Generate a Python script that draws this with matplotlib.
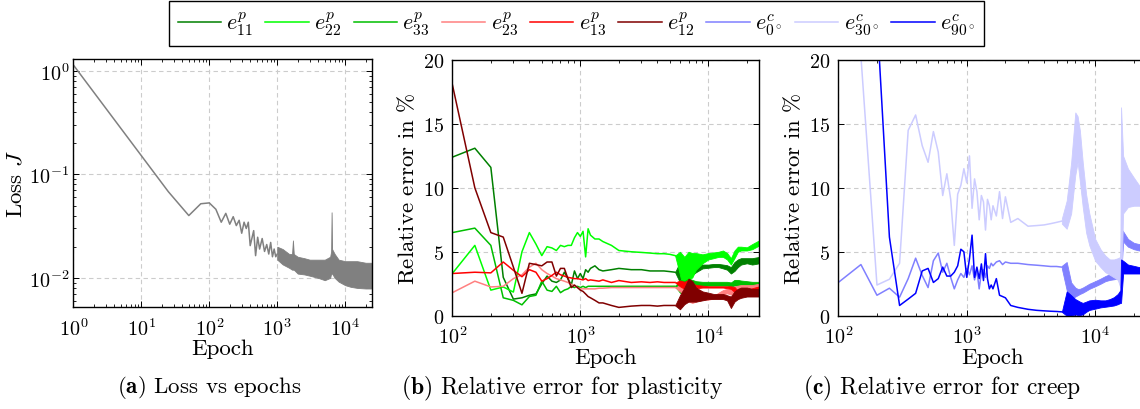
import numpy as np
import matplotlib
matplotlib.use('Agg')
import matplotlib.pyplot as plt
from matplotlib.ticker import LogLocator, FixedLocator, NullFormatter

plt.rcParams['font.family'] = 'cmr10'
plt.rcParams['mathtext.fontset'] = 'cm'
plt.rcParams['axes.formatter.use_mathtext'] = True

# ---- (a) loss ----
ep_loss = [1, 25, 50, 75, 100, 125, 150, 175, 200, 225, 250, 275, 300, 325, 350, 375,
           400, 450, 480, 515, 550, 600, 650, 700, 750, 800, 850, 900, 950, 1000]
loss = [1.14, 0.068, 0.040, 0.052, 0.053, 0.046, 0.0345, 0.042, 0.033, 0.039, 0.032, 0.036,
        0.027, 0.0345, 0.030, 0.0345, 0.0205, 0.0286, 0.0164, 0.0247, 0.019, 0.024, 0.018,
        0.021, 0.017, 0.022, 0.016, 0.019, 0.016, 0.017]
ep_loss_band = [1000, 1200, 1500, 1650, 1700, 1750, 2000, 2500, 3000, 4000, 5000, 6000, 6200,
                6300, 6400, 7000, 8000, 10000, 12000, 15000, 20000, 25000]
loss_lo = [0.015, 0.0135, 0.0125, 0.012, 0.012, 0.012, 0.011, 0.0108, 0.0105, 0.0100, 0.0095,
           0.0100, 0.0110, 0.0110, 0.0110, 0.0100, 0.0092, 0.0085, 0.0082, 0.0080, 0.0079, 0.0079]
loss_hi = [0.020, 0.019, 0.017, 0.017, 0.023, 0.017, 0.016, 0.0155, 0.0150, 0.015, 0.0150,
           0.016, 0.018, 0.043, 0.019, 0.017, 0.0150, 0.0145, 0.0145, 0.0145, 0.014, 0.014]

# ---- (b) plasticity ----
ep_b = [100, 150, 200, 250, 300, 350, 400, 450, 500, 550, 600, 650, 700, 750, 800, 850, 900,
        950, 1000, 1050, 1100, 1150, 1200, 1300, 1400, 1500, 1750, 2000, 2500, 3000, 3500,
        4000, 4500, 5000, 5500]
e11 = [12.4, 13.1, 11.6, 3.0, 1.3, 1.4, 1.6, 1.7, 2.5, 3.1, 2.7, 2.6, 2.8, 3.4, 2.9, 2.4, 3.5,
       2.9, 3.3, 2.9, 3.6, 3.4, 3.7, 3.9, 3.6, 3.5, 3.6, 3.7, 3.6, 3.6, 3.5, 3.5, 3.5, 3.45, 3.4]
e22 = [3.3, 5.5, 2.0, 2.25, 1.85, 5.0, 6.5, 5.6, 4.7, 5.4, 5.3, 5.1, 5.5, 5.4, 5.5, 5.5, 6.1,
       6.5, 6.2, 6.6, 4.6, 6.8, 6.3, 6.0, 6.0, 5.8, 5.5, 5.1, 5.0, 4.95, 4.9, 4.85, 4.85, 4.8, 4.7]
e33 = [6.5, 6.85, 5.5, 1.4, 1.2, 0.85, 1.5, 1.6, 2.7, 2.0, 1.9, 2.3, 1.8, 2.0, 2.1, 2.3, 2.2,
       2.3, 2.2, 2.3, 2.2, 2.3, 2.3, 2.3, 2.3, 2.3, 2.3, 2.3, 2.3, 2.3, 2.3, 2.3, 2.3, 2.3, 2.3]
e23 = [1.8, 2.7, 2.25, 2.3, 2.9, 3.2, 3.8, 4.1, 3.6, 3.3, 3.1, 2.9, 2.8, 2.7, 2.6, 2.45, 2.35,
       2.2, 2.1, 2.1, 2.1, 2.1, 2.1, 2.1, 2.15, 2.15, 2.2, 2.2, 2.2, 2.2, 2.2, 2.2, 2.2, 2.2, 2.2]
e13 = [3.3, 3.4, 3.35, 4.2, 3.55, 3.05, 3.6, 3.4, 2.7, 2.9, 3.15, 3.4, 3.2, 3.1, 3.0, 2.95, 2.9,
       2.9, 2.85, 2.8, 2.9, 2.75, 2.8, 2.75, 2.7, 2.8, 2.6, 2.75, 2.6, 2.65, 2.6, 2.65, 2.6, 2.6, 2.6]
e12 = [18.1, 10.0, 6.5, 6.15, 3.8, 1.75, 4.1, 4.0, 3.9, 4.2, 4.2, 3.1, 3.7, 3.7, 2.9, 2.2, 2.4,
       2.2, 2.0, 1.9, 1.7, 1.5, 1.4, 1.2, 1.0, 1.0, 0.8, 0.65, 0.75, 0.8, 0.8, 0.75, 0.8, 0.8, 0.8]

ep_b_band = [5500, 6000, 6500, 7000, 7500, 8000, 9000, 10000, 11000, 12000, 13000, 14000,
             15000, 16000, 17000, 18000, 20000, 22000, 25000]
e11_lo = [3.4, 2.6, 2.4, 3.0, 3.2, 3.4, 3.7, 3.75, 3.8, 3.8, 3.7, 3.6, 3.3, 3.5, 3.8, 4.0, 4.1, 4.0, 4.1]
e11_hi = [3.4, 4.2, 4.3, 4.3, 4.2, 4.1, 4.0, 4.0, 4.05, 4.05, 4.0, 3.95, 3.8, 4.2, 4.4, 4.5, 4.5, 4.5, 4.6]
e22_lo = [4.7, 3.2, 1.7, 2.8, 3.0, 3.6, 4.1, 4.4, 4.5, 4.6, 4.6, 4.4, 4.0, 4.5, 5.0, 5.1, 5.1, 5.2, 5.5]
e22_hi = [4.7, 5.0, 4.6, 5.0, 4.9, 4.9, 4.8, 4.9, 4.95, 5.0, 5.1, 4.9, 4.5, 5.1, 5.4, 5.4, 5.35, 5.6, 5.9]
e33_lo = [2.3, 1.8, 1.7, 1.9, 2.1, 2.25, 2.35, 2.35, 2.35, 2.35, 2.35, 2.35, 2.3, 2.35, 2.35, 2.35, 2.35, 2.3, 2.3]
e33_hi = [2.3, 2.8, 2.7, 2.9, 2.8, 2.7, 2.65, 2.65, 2.65, 2.65, 2.65, 2.65, 2.6, 2.8, 2.8, 2.75, 2.7, 2.65, 2.65]
e23_lo = [2.2, 1.9, 1.6, 1.1, 1.0, 1.1, 1.25, 1.25, 1.35, 1.5, 1.65, 1.75, 1.65, 1.7, 1.8, 1.85, 1.85, 1.95, 2.05]
e23_hi = [2.2, 2.4, 2.3, 2.2, 1.9, 1.7, 1.55, 1.45, 1.55, 1.8, 2.0, 2.1, 2.1, 2.3, 2.35, 2.4, 2.4, 2.4, 2.5]
e13_lo = [2.6, 2.3, 2.1, 1.9, 2.05, 2.15, 2.2, 2.2, 2.2, 2.2, 2.2, 2.15, 2.1, 1.85, 1.75, 1.7, 1.75, 1.85, 1.95]
e13_hi = [2.6, 2.75, 2.65, 2.8, 2.55, 2.4, 2.35, 2.3, 2.3, 2.3, 2.3, 2.3, 2.3, 2.25, 1.95, 1.9, 1.95, 2.15, 2.3]
e12_lo = [0.8, 0.5, 0.9, 1.1, 1.1, 1.1, 1.2, 1.3, 1.3, 1.3, 1.3, 1.2, 0.6, 1.1, 1.3, 1.4, 1.5, 1.5, 1.5]
e12_hi = [0.8, 1.6, 2.2, 2.9, 2.7, 2.2, 1.9, 1.8, 1.7, 1.7, 1.7, 1.6, 1.5, 1.9, 2.1, 2.2, 2.2, 2.1, 2.1]

# ---- (c) creep ----
ep_c = [100, 150, 200, 250, 300, 350, 400, 450, 500, 550, 600, 650, 700, 750, 800, 850, 900,
        950, 1000, 1050, 1100, 1150, 1200, 1250, 1300, 1350, 1400, 1450, 1500, 1550, 1600,
        1700, 1800, 1900, 2000, 2200, 2500, 3000, 3500, 4000, 4500, 5000, 5500]
c0 = [2.6, 4.0, 1.6, 2.15, 1.45, 2.9, 4.5, 3.15, 2.2, 4.3, 4.9, 3.4, 4.1, 3.0, 2.1, 2.8, 3.3,
      3.0, 3.7, 3.2, 3.9, 2.8, 3.5, 2.1, 3.4, 3.6, 3.0, 3.9, 3.7, 4.1, 3.9, 4.2, 4.3, 4.0, 4.2,
      4.1, 4.1, 4.0, 3.95, 3.9, 3.85, 3.85, 3.8]
c30 = [45.0, 20.3, 2.4, 2.85, 4.1, 14.5, 15.7, 13.3, 12.0, 14.4, 12.8, 9.4, 11.1, 9.1, 5.5, 9.5,
       10.2, 11.5, 10.4, 12.5, 8.4, 10.7, 9.7, 7.5, 9.4, 8.9, 6.7, 9.1, 8.6, 7.5, 8.6, 7.8, 9.7,
       7.6, 9.3, 7.3, 7.6, 7.0, 7.05, 7.1, 7.2, 7.3, 7.4]
c90 = [60.0, 40.0, 23.4, 6.15, 0.8, 1.3, 1.75, 3.5, 3.7, 2.6, 2.9, 3.8, 3.1, 3.1, 3.4, 3.9, 5.2,
       5.0, 3.0, 4.45, 6.3, 3.0, 3.8, 2.9, 4.05, 2.75, 4.85, 2.9, 2.1, 2.4, 2.1, 2.9, 1.6, 1.5,
       1.4, 0.8, 0.65, 0.5, 0.42, 0.38, 0.35, 0.33, 0.3]

ep_c_band = [5500, 6000, 6500, 7000, 7300, 7600, 8000, 8500, 9000, 10000, 11000, 12000, 13000,
             14000, 15000, 15700, 15900, 16500, 18000, 20000, 22000, 25000]
c0_lo = [3.7, 2.0, 1.3, 1.5, 1.6, 1.7, 1.8, 1.95, 2.1, 2.3, 2.5, 2.7, 2.8, 2.85, 2.9, 3.0, 3.0,
         5.8, 5.4, 5.2, 5.1, 5.2]
c0_hi = [3.9, 4.2, 2.6, 2.2, 2.1, 2.1, 2.2, 2.35, 2.5, 2.7, 2.9, 3.1, 3.25, 3.35, 3.45, 3.6, 6.8,
         6.6, 6.0, 5.7, 5.6, 5.7]
c30_lo = [7.2, 6.8, 8.0, 11.0, 12.0, 10.5, 8.5, 6.5, 5.5, 4.3, 3.8, 3.4, 3.2, 3.0, 2.8, 2.2, 2.2,
          8.0, 8.5, 8.6, 8.6, 8.3]
c30_hi = [7.6, 9.0, 12.0, 15.9, 15.6, 14.5, 12.0, 9.5, 8.0, 6.0, 5.2, 4.7, 4.4, 4.4, 4.5, 4.6, 16.3,
          12.5, 11.5, 10.8, 10.2, 10.0]
c90_lo = [0.3, 0.0, 0.0, 0.1, 0.05, 0.05, 0.1, 0.3, 0.45, 0.55, 0.65, 0.7, 0.75, 0.8, 0.9, 1.0,
          1.0, 3.3, 3.3, 3.3, 3.3, 3.3]
c90_hi = [0.3, 1.9, 1.6, 1.3, 1.2, 1.1, 1.0, 1.1, 1.2, 1.25, 1.2, 1.2, 1.3, 1.45, 1.7, 2.0, 4.4,
          4.3, 4.0, 3.9, 3.8, 3.8]

col = {'e11': '#008000', 'e22': '#00ff00', 'e33': '#00bf00', 'e23': '#ff8080',
       'e13': '#ff0000', 'e12': '#800000', 'c0': '#8080ff', 'c30': '#ccccff', 'c90': '#0000ff'}
labels = {'e11': r'$e^p_{11}$', 'e22': r'$e^p_{22}$', 'e33': r'$e^p_{33}$',
          'e23': r'$e^p_{23}$', 'e13': r'$e^p_{13}$', 'e12': r'$e^p_{12}$',
          'c0': r'$e^c_{0^\circ}$', 'c30': r'$e^c_{30^\circ}$', 'c90': r'$e^c_{90^\circ}$'}


def style(ax):
    ax.set_xscale('log')
    ax.xaxis.set_major_locator(LogLocator(base=10, numticks=30))
    ax.xaxis.set_minor_locator(LogLocator(base=10, subs=np.arange(2, 10), numticks=30))
    ax.xaxis.set_minor_formatter(NullFormatter())
    ax.tick_params(which='both', direction='in', top=True, right=True, labelsize=14.5, pad=3)
    ax.tick_params(axis='x', pad=7)
    ax.tick_params(which='major', length=4, width=0.7)
    ax.tick_params(which='minor', length=2.2, width=0.6)
    ax.grid(True, which='major', ls=(0, (4, 3)), color='#cccccc', lw=0.8)
    ax.set_axisbelow(True)
    for s in ax.spines.values():
        s.set_linewidth(1.0)
    ax.set_xlabel('Epoch', fontsize=16.5, labelpad=0)


W, H = 1140, 410
fig = plt.figure(figsize=(W / 100, H / 100), dpi=100)

def pos(l, r, t, b):
    return [l / W, 1 - b / H, (r - l) / W, (b - t) / H]

# (a)
ax = fig.add_axes(pos(73.3, 372.3, 60, 308.3))
style(ax)
ax.set_yscale('log')
ax.yaxis.set_major_locator(LogLocator(base=10, numticks=30))
ax.yaxis.set_minor_locator(LogLocator(base=10, subs=np.arange(2, 10), numticks=30))
ax.yaxis.set_minor_formatter(NullFormatter())
ax.plot(ep_loss, loss, color='#808080', lw=1.1)
ax.fill_between(ep_loss_band, loss_lo, loss_hi, color='#808080', lw=0.6)
ax.set_xlim(1, 2.5e4)
ax.set_ylim(5.2e-3, 1.3)
ax.set_ylabel('Loss $J$', fontsize=16.5, labelpad=2)

handles = []

def series_panel(ax, ep, ep_band, series):
    for key, y, lo, hi in series:
        h, = ax.plot(ep, y, color=col[key], lw=1.1, label=labels[key])
        ax.fill_between(ep_band, lo, hi, color=col[key], lw=0.6)
        handles.append(h)
    ax.set_xlim(100, 2.5e4)
    ax.set_ylim(0, 20)
    ax.yaxis.set_major_locator(FixedLocator([0, 5, 10, 15, 20]))
    ax.tick_params(axis='y', pad=6)
    ax.set_ylabel(r'Relative error in $\%$', fontsize=16.5, labelpad=3)

axb = fig.add_axes(pos(452.3, 759.3, 61, 316.7))
style(axb)
series_panel(axb, ep_b, ep_b_band, [
    ('e11', e11, e11_lo, e11_hi), ('e22', e22, e22_lo, e22_hi), ('e33', e33, e33_lo, e33_hi),
    ('e23', e23, e23_lo, e23_hi), ('e13', e13, e13_lo, e13_hi), ('e12', e12, e12_lo, e12_hi)])

axc = fig.add_axes(pos(838.3, 1146.3, 61, 316.7))
style(axc)
series_panel(axc, ep_c, ep_c_band, [
    ('c0', c0, c0_lo, c0_hi), ('c30', c30, c30_lo, c30_hi), ('c90', c90, c90_lo, c90_hi)])

leg = fig.legend(handles=handles, loc='upper center', bbox_to_anchor=(576.5 / W, 1 - 2 / H),
                 ncol=9, fontsize=16, frameon=True, fancybox=False, edgecolor='black',
                 framealpha=1, handlelength=1.95, handletextpad=0.25, columnspacing=0.55,
                 borderpad=0.4, borderaxespad=0)
leg.get_frame().set_linewidth(1.0)

cap_y = 1 - 388 / H
fig.text(209 / W, cap_y, r'$\mathbf{(a)}$ Loss vs epochs', ha='center', va='center', fontsize=16.5)
fig.text(562 / W, cap_y, r'$\mathbf{(b)}$ Relative error for plasticity', ha='center', va='center', fontsize=17)
fig.text(942 / W, cap_y, r'$\mathbf{(c)}$ Relative error for creep', ha='center', va='center', fontsize=17)

fig.savefig('out.png', dpi=100)
